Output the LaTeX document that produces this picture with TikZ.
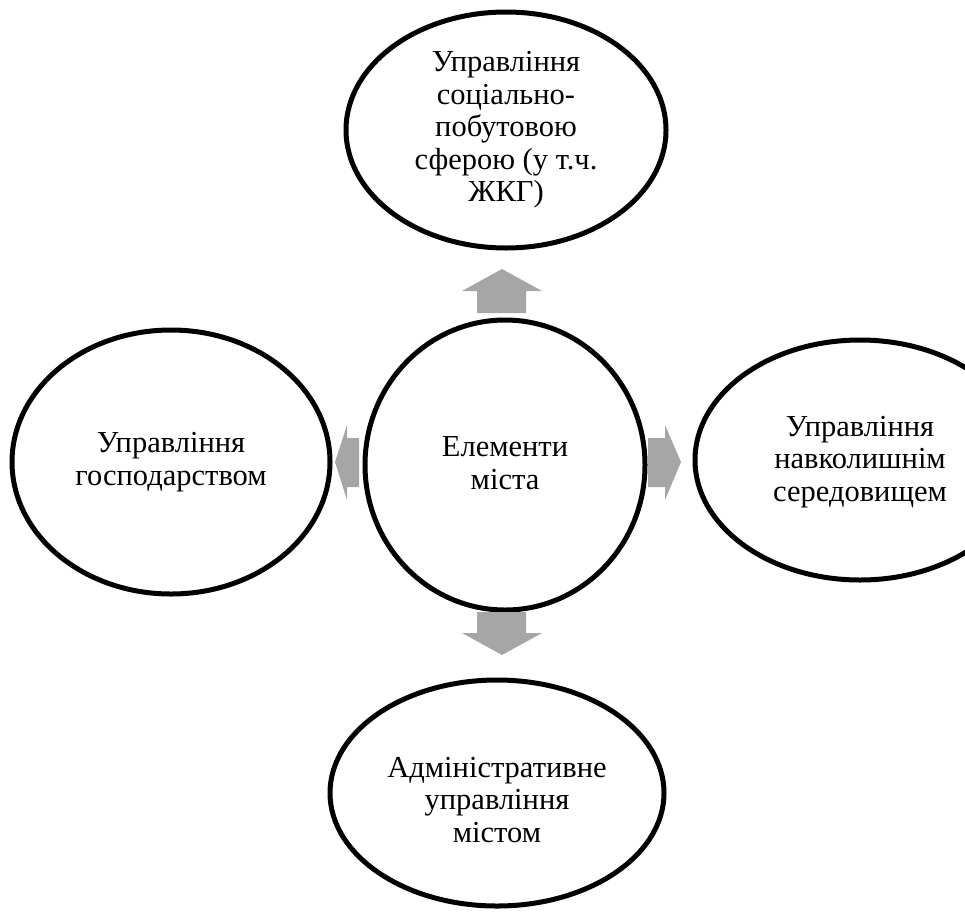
\documentclass[tikz,border=0pt]{standalone}
\usepackage{fontspec}
\setmainfont{Liberation Serif}
\begin{document}
\begin{tikzpicture}[x=1pt,y=-1pt,
  elps/.style={draw=black, line width=5pt},
  lbl/.style={align=center, font=\fontsize{30.5}{32.5}\selectfont, inner sep=0pt},
  blockarrow/.style={fill=black!35, draw=none}]
\useasboundingbox (0,0) rectangle (965,913);
% ellipses
\draw[elps] (506,130) ellipse [x radius=160, y radius=118];
\draw[elps] (505,465) ellipse [x radius=140, y radius=145];
\draw[elps] (171,462) ellipse [x radius=159, y radius=132];
\draw[elps] (860,460) ellipse [x radius=165, y radius=120];
\draw[elps] (497,793) ellipse [x radius=167, y radius=113];
% labels
\node[lbl] (top) at (506,130) {Управління\\соціально-\\побутовою\\сферою (у т.ч.\\ЖКГ)};
\node[lbl] (center) at (505,463) {Елементи\\міста};
\node[lbl] (left) at (171,462) {Управління\\господарством};
\node[lbl] (right) at (860,462) {Управління\\навколишнім\\середовищем};
\node[lbl] (bottom) at (497,800) {Адміністративне\\управління\\містом};
% block arrows
\fill[blockarrow] (477,313) -- (477,291) -- (462,291) -- (502,269) -- (542,291) -- (526,291) -- (526,313) -- cycle;
\fill[blockarrow] (477,612) -- (526,612) -- (526,633) -- (542,633) -- (502,655) -- (462,633) -- (477,633) -- cycle;
\fill[blockarrow] (359,438) -- (347,438) -- (347,425) -- (335,462) -- (347,500) -- (347,487) -- (359,487) -- cycle;
\fill[blockarrow] (648,438) -- (665,438) -- (665,425) -- (681,462) -- (665,500) -- (665,487) -- (648,487) -- cycle;
\end{tikzpicture}
\end{document}
